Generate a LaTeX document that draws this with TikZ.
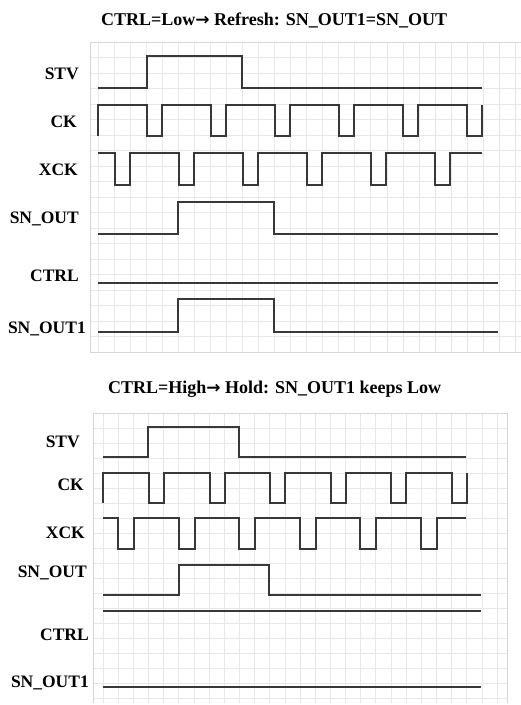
\documentclass[tikz,border=0pt]{standalone}
\usepackage{fontspec}
\setmainfont{Liberation Serif}
\newfontfamily\arrowfont{DejaVu Sans}
\newcommand{\myarrow}{{\arrowfont\bfseries\fontsize{17}{20}\selectfont →}}
\begin{document}
\begin{tikzpicture}[x=1pt,y=-1pt,
  gridline/.style={draw=black!9,line width=0.8pt},
  gridborder/.style={draw=black!16,line width=1pt},
  wave/.style={draw=black!78,line width=1.9pt,line join=miter},
  lbl/.style={anchor=base east,inner sep=0pt,font=\bfseries\fontsize{17.5}{20}\selectfont},
  ttl/.style={anchor=base west,inner sep=0pt,font=\bfseries\fontsize{18}{21}\selectfont}]
\useasboundingbox (0,0) rectangle (521,705);
\fill[white] (0,0) rectangle (521,705);

% ---------- top panel grid ----------
\foreach \i in {0,...,26} \draw[gridline] ({98+16.05*\i},42) -- ({98+16.05*\i},352);
\foreach \j in {0,...,20} \draw[gridline] (90,{42+15.5*\j}) -- (521,{42+15.5*\j});
\draw[gridborder] (90,352) -- (90,42) -- (521,42);
\draw[gridborder] (90,352) -- (521,352);

% ---------- bottom panel grid ----------
\foreach \i in {0,...,26} \draw[gridline] ({103+15.16*\i},413) -- ({103+15.16*\i},703);
\foreach \j in {0,...,19} \draw[gridline] (93,{413+15*\j}) -- (507,{413+15*\j});
\draw[gridborder] (93,703) -- (93,413) -- (507,413) -- (507,703);

% ---------- titles ----------
\node[ttl] (t1) at (101,25) {CTRL=Low\myarrow{} Refresh: SN\_OUT1=SN\_OUT};
\node[ttl] (t2) at (108,393) {CTRL=High\myarrow{} Hold: SN\_OUT1 keeps Low};

% ---------- top labels ----------
\node[lbl] (stvA) at (79,79) {STV};
\node[lbl] (ckA) at (77,127) {CK};
\node[lbl] (xckA) at (78,175) {XCK};
\node[lbl] (snA) at (79,223) {SN\_OUT};
\node[lbl] (ctrlA) at (79,281) {CTRL};
\node[lbl] (sn1A) at (86,333) {SN\_OUT1};

% ---------- top waveforms ----------
\draw[wave] (98,88) -- (147,88) -- (147,56) -- (242,56) -- (242,88) -- (482,88);
\draw[wave] (98,136) -- (98,105)
  \foreach \k in {0,...,5} { -- ({147+64*\k},105) -- ({147+64*\k},136) -- ({162+64*\k},136) -- ({162+64*\k},105) };
\draw[wave] (98,153)
  \foreach \k in {0,...,5} { -- ({115+64*\k},153) -- ({115+64*\k},185) -- ({130+64*\k},185) -- ({130+64*\k},153) } -- (482,153);
\draw[wave] (98,234) -- (178,234) -- (178,202) -- (274,202) -- (274,234) -- (498,234);
\draw[wave] (98,283) -- (498,283);
\draw[wave] (98,332) -- (178,332) -- (178,299) -- (274,299) -- (274,332) -- (498,332);

% ---------- bottom labels ----------
\node[lbl] (stvB) at (80,447) {STV};
\node[lbl] (ckB) at (84,490) {CK};
\node[lbl] (xckB) at (85,538) {XCK};
\node[lbl] (snB) at (87,577) {SN\_OUT};
\node[lbl] (ctrlB) at (89,640) {CTRL};
\node[lbl] (sn1B) at (89,687) {SN\_OUT1};

% ---------- bottom waveforms ----------
\draw[wave] (103,457) -- (148,457) -- (148,427) -- (239,427) -- (239,457) -- (466,457);
\draw[wave] (103,503) -- (103,473)
  \foreach \k in {0,...,5} { -- ({149+60.6*\k},473) -- ({149+60.6*\k},503) -- ({164+60.6*\k},503) -- ({164+60.6*\k},473) };
\draw[wave] (103,518)
  \foreach \k in {0,...,5} { -- ({118+60.6*\k},518) -- ({118+60.6*\k},549) -- ({134+60.6*\k},549) -- ({134+60.6*\k},518) } -- (466,518);
\draw[wave] (103,595) -- (179,595) -- (179,565) -- (269,565) -- (269,595) -- (481,595);
\draw[wave] (103,611) -- (481,611);
\draw[wave] (103,687) -- (481,687);
\end{tikzpicture}
\end{document}
